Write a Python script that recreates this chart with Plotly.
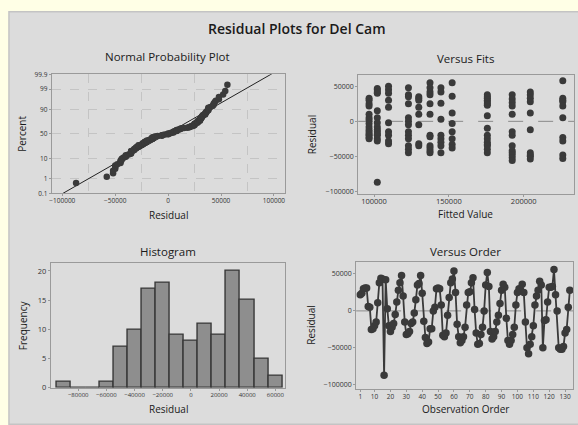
import plotly.graph_objects as go
from statistics import NormalDist, mean, pstdev

# ---------------- data ----------------
residuals = [
    22000, 24000, 30000, 31000, 31000, 6000, 5000, -25000, -24000, -20000,
    -15000, 11000, 38000, 44000, 43000, -87000, 42000, 3000, -20000, -28000,
    -22000, -17000, -5000, 12000, 28000, 38000, 48000, 20000, -15000, -32000,
    -31000, -28000, -17000, -15000, -3000, 15000, 35000, 37000, 48000, 24000,
    -14000, -36000, -44000, -42000, -24000, -24000, 0, 5000, 30000, 31000,
    30000, 8000, -33000, -35000, -30000, -6000, 18000, 38000, 43000, 54000,
    25000, -18000, -35000, -43000, -40000, -35000, -22000, 8000, 25000, 26000,
    38000, 45000, 2000, -30000, -45000, -44000, -32000, -22000, 0, 35000,
    52000, 33000, -28000, -38000, -35000, -28000, -15000, -6000, 10000, 28000,
    36000, 32000, -10000, -40000, -45000, -40000, -32000, -22000, 8000, 25000,
    30000, 27000, 36000, 25000, -15000, -50000, -58000, -45000, -35000, -20000,
    8000, 20000, 28000, 40000, 35000, -50000, -13000, -12000, 12000, 32000,
    32000, 33000, 56000, 22000, 0, -50000, -52000, -52000, -48000, -30000,
    -25000, 5000, 28000,
]
order = list(range(1, len(residuals) + 1))

fit_levels = [96700, 102200, 109700, 123000, 129900, 137400, 144700,
              152200, 175700, 192300, 204400, 226100]
fit_resids = [
    [33000, 30000, 25000, 22000, 10000, 5000, 2000, -3000, -8000, -12000, -15000, -18000, -20000, -23000, -25000],
    [47000, 45000, 42000, 40000, 15000, 5000, -2000, -8000, -12000, -15000, -18000, -20000, -25000, -28000, -87000],
    [50000, 45000, 40000, 30000, 20000, -2000, -15000, -20000, -28000, -32000],
    [48000, 38000, 35000, 25000, 5000, 0, -5000, -15000, -20000, -25000, -35000, -40000, -45000],
    [35000, 33000, 30000, 20000, 10000, -5000, -32000, -35000],
    [55000, 48000, 42000, 38000, 25000, 10000, -20000, -22000, -35000, -38000, -42000, -45000],
    [48000, 42000, 26000, 3000, -20000, -25000, -30000, -35000, -45000],
    [55000, 36000, 12000, -3000, -15000, -25000, -33000, -38000],
    [38000, 35000, 33000, 30000, 28000, 25000, 23000, 8000, -10000, -20000, -25000, -30000, -33000, -35000, -40000, -45000],
    [38000, 32000, 27000, 22000, 10000, -15000, -20000, -35000, -42000, -45000, -48000, -52000, -56000],
    [42000, 38000, 33000, 28000, 12000, -12000, -45000, -48000, -50000, -54000],
    [58000, 33000, 30000, 28000, 22000, 5000, -23000, -28000, -48000, -53000],
]

hist_mid = [-90000, -80000, -70000, -60000, -50000, -40000, -30000, -20000,
            -10000, 0, 10000, 20000, 30000, 40000, 50000, 60000]
hist_cnt = [1, 0, 0, 1, 7, 10, 17, 18, 9, 8, 11, 9, 20, 15, 5, 2]

pct_ticks = [0.1, 1, 10, 50, 90, 99, 99.9]
pct_labels = ["0.1", "1", "10", "50", "90", "99", "99.9"]
order_ticks = [1, 10, 20, 30, 40, 50, 60, 70, 80, 90, 100, 110, 120, 130]

# ---------------- derived ----------------
nd = NormalDist()
n = len(residuals)
sorted_res = sorted(residuals)
npp_z = [nd.inv_cdf((i + 1 - 0.3) / (n + 0.4)) for i in range(n)]
mu = mean(residuals)
sd = pstdev(residuals)
line_z = [-3.4, 3.4]
line_x = [mu + z * sd for z in line_z]

fx, fy = [], []
for lv, rs in zip(fit_levels, fit_resids):
    for r in rs:
        fx.append(lv)
        fy.append(r)

# ---------------- figure ----------------
W, H = 578, 425
FONT = "Open Sans"
PT = "#3a3a3a"
TXT = "#1a1a1a"
AX = "#9a9a9a"


def px(x):
    return x / W


def py(y):
    return 1 - y / H


fig = go.Figure()

fig.add_trace(go.Scatter(x=line_x, y=line_z, mode="lines",
                         line=dict(color="#222222", width=1), xaxis="x", yaxis="y",
                         hoverinfo="skip"))
fig.add_trace(go.Scatter(x=sorted_res, y=npp_z, mode="markers",
                         marker=dict(color=PT, size=6.5), xaxis="x", yaxis="y"))
fig.add_trace(go.Scatter(x=fx, y=fy, mode="markers",
                         marker=dict(color=PT, size=7), xaxis="x2", yaxis="y2"))
fig.add_trace(go.Bar(x=hist_mid, y=hist_cnt, width=10000,
                     marker=dict(color="#8e8e8e", line=dict(color="#383838", width=1.4)),
                     xaxis="x3", yaxis="y3"))
fig.add_trace(go.Scatter(x=order, y=residuals, mode="lines+markers",
                         line=dict(color=PT, width=1.8),
                         marker=dict(color=PT, size=7.5), xaxis="x4", yaxis="y4"))

common = dict(showline=True, linecolor=AX, linewidth=1, mirror=True,
              ticks="outside", ticklen=2, tickcolor=AX, zeroline=False,
              showgrid=False, fixedrange=True)
tf = lambda s: dict(family=FONT, size=s, color="#333333")

fig.update_layout(
    width=W, height=H, margin=dict(l=0, r=0, t=0, b=0),
    paper_bgcolor="#ffffe6", plot_bgcolor="white", showlegend=False,
    bargap=0,
    xaxis=dict(domain=[px(50), px(284)], range=[-110000, 110000], anchor="y",
               tickmode="linear", tick0=0, dtick=50000, tickformat="d",
               tickfont=tf(6.5), ticklabelstandoff=-1,
               minor=dict(dtick=25000, tick0=0, showgrid=True, gridcolor="#c4c4c4",
                          griddash="dash", gridwidth=1),
               **common),
    yaxis=dict(domain=[py(193), py(71)], range=[-3.1, 3.1], anchor="x",
               tickvals=[nd.inv_cdf(p / 100) for p in pct_ticks], ticktext=pct_labels,
               tickfont=tf(6.5), **{**common, "showgrid": True},
               gridcolor="#c4c4c4", griddash="dash"),
    xaxis2=dict(domain=[px(358), px(575)], range=[89400, 233600], anchor="y2",
                tickvals=[100000, 150000, 200000], tickformat="d",
                tickfont=tf(7.5), ticklabelstandoff=-2, **common),
    yaxis2=dict(domain=[py(194), py(72)], range=[-104500, 65800], anchor="x2",
                tickvals=[-100000, -50000, 0, 50000], tickformat="d",
                tickfont=tf(7), **common),
    xaxis3=dict(domain=[px(49), px(284)], range=[-99500, 66500], anchor="y3",
                tickvals=[-80000, -60000, -40000, -20000, 0, 20000, 40000, 60000],
                tickformat="d", tickfont=tf(6), ticklabelstandoff=-1, **common),
    yaxis3=dict(domain=[py(392), py(264)], range=[0, 21.4], anchor="x3",
                tickvals=[0, 5, 10, 15, 20], tickfont=tf(7.5), **common),
    xaxis4=dict(domain=[px(356), px(574)], range=[-1.6, 135], anchor="y4",
                tickvals=order_ticks, tickfont=tf(6.5), ticklabelstandoff=-1, **common),
    yaxis4=dict(domain=[py(393), py(263)], range=[-105300, 66400], anchor="x4",
                tickvals=[-100000, -50000, 0, 50000], tickformat="d",
                tickfont=tf(7), **common),
)

shapes = [
    dict(type="rect", xref="paper", yref="paper", x0=px(7), x1=1.01, y0=-0.01, y1=py(7),
         fillcolor="#dcdcdc", line=dict(color="#c4c4c4", width=1.5), layer="below"),
    dict(type="line", xref="x2 domain", yref="y2", x0=0, x1=1, y0=0, y1=0,
         line=dict(color="#8a8a8a", width=1, dash="longdash"), layer="below"),
    dict(type="line", xref="x4 domain", yref="y4", x0=0, x1=1, y0=0, y1=0,
         line=dict(color="#8a8a8a", width=1, dash="longdash"), layer="below"),
]
fig.update_layout(shapes=shapes)


def ann(text, x, y, size, angle=0, weight="normal"):
    return dict(text=text, x=px(x), y=py(y),
                xref="paper", yref="paper", showarrow=False, textangle=angle,
                xanchor="center", yanchor="middle",
                font=dict(family=FONT, size=size, color=TXT, weight=weight))


fig.update_layout(annotations=[
    ann("Residual Plots for Del Cam", 297, 24, 14, weight=600),
    ann("Normal Probability Plot", 166, 53, 11.5),
    ann("Versus Fits", 466, 55, 11.5),
    ann("Histogram", 167, 252, 11.5),
    ann("Versus Order", 466, 252, 11.5),
    ann("Percent", 20, 132, 10, angle=-90),
    ann("Residual", 167, 215, 10),
    ann("Residual", 311, 133, 10, angle=-90),
    ann("Fitted Value", 466, 214, 10),
    ann("Frequency", 21, 328, 10, angle=-90),
    ann("Residual", 167, 414, 10),
    ann("Residual", 311, 328, 10, angle=-90),
    ann("Observation Order", 466, 414, 10),
])

fig.write_html("out.html")
